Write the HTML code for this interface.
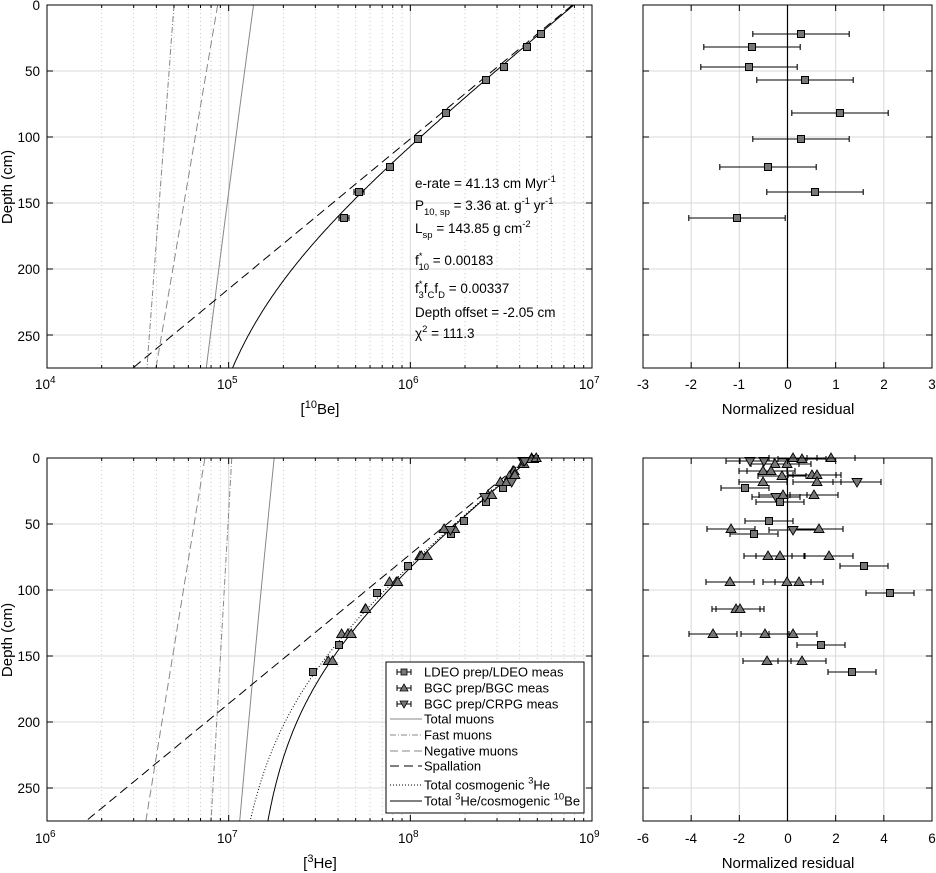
<!DOCTYPE html>
<html><head><meta charset="utf-8"><style>
html,body{margin:0;padding:0;background:#fff;}
svg{display:block;font-family:"Liberation Sans",Arial,sans-serif;}
</style></head><body>
<svg id="s" width="936" height="873" viewBox="0 0 936 873" xmlns="http://www.w3.org/2000/svg">
<rect width="936" height="873" fill="#fff"/>
<g id="grid"></g>
<g id="curves" fill="none"></g>
<g id="pts"></g>
<g id="frames" fill="none" stroke="#000" stroke-width="1"></g>
<g font-size="13.5" fill="#000">
 <text x="40" y="10" text-anchor="end">0</text>
 <text x="40" y="76" text-anchor="end">50</text>
 <text x="40" y="142" text-anchor="end">100</text>
 <text x="40" y="208" text-anchor="end">150</text>
 <text x="40" y="274" text-anchor="end">200</text>
 <text x="40" y="341" text-anchor="end">250</text>
 <text x="40" y="463" text-anchor="end">0</text>
 <text x="40" y="529" text-anchor="end">50</text>
 <text x="40" y="595" text-anchor="end">100</text>
 <text x="40" y="661" text-anchor="end">150</text>
 <text x="40" y="727" text-anchor="end">200</text>
 <text x="40" y="793" text-anchor="end">250</text>
 <text x="35" y="389">10<tspan font-size="10" dy="-6">4</tspan></text>
 <text x="217" y="389">10<tspan font-size="10" dy="-6">5</tspan></text>
 <text x="398" y="389">10<tspan font-size="10" dy="-6">6</tspan></text>
 <text x="579" y="389">10<tspan font-size="10" dy="-6">7</tspan></text>
 <text x="35" y="843">10<tspan font-size="10" dy="-6">6</tspan></text>
 <text x="217" y="843">10<tspan font-size="10" dy="-6">7</tspan></text>
 <text x="398" y="843">10<tspan font-size="10" dy="-6">8</tspan></text>
 <text x="579" y="843">10<tspan font-size="10" dy="-6">9</tspan></text>
 <text x="643" y="389" text-anchor="middle">-3</text>
 <text x="691" y="389" text-anchor="middle">-2</text>
 <text x="739" y="389" text-anchor="middle">-1</text>
 <text x="788" y="389" text-anchor="middle">0</text>
 <text x="836" y="389" text-anchor="middle">1</text>
 <text x="884" y="389" text-anchor="middle">2</text>
 <text x="932" y="389" text-anchor="middle">3</text>
 <text x="643" y="843" text-anchor="middle">-6</text>
 <text x="691" y="843" text-anchor="middle">-4</text>
 <text x="739" y="843" text-anchor="middle">-2</text>
 <text x="788" y="843" text-anchor="middle">0</text>
 <text x="836" y="843" text-anchor="middle">2</text>
 <text x="884" y="843" text-anchor="middle">4</text>
 <text x="932" y="843" text-anchor="middle">6</text>
</g>
<g font-size="15" fill="#000">
 <text transform="translate(12,187) rotate(-90)" text-anchor="middle">Depth (cm)</text>
 <text transform="translate(12,640) rotate(-90)" text-anchor="middle">Depth (cm)</text>
 <text x="320" y="414" text-anchor="middle">[<tspan font-size="11" dy="-6">10</tspan><tspan dy="6">Be]</tspan></text>
 <text x="320" y="868" text-anchor="middle">[<tspan font-size="11" dy="-6">3</tspan><tspan dy="6">He]</tspan></text>
 <text x="788" y="414" text-anchor="middle">Normalized residual</text>
 <text x="788" y="868" text-anchor="middle">Normalized residual</text>
</g>
<g font-size="13.5" fill="#000">
 <text x="415" y="188">e-rate = 41.13 cm Myr<tspan font-size="9.5" dy="-6">-1</tspan></text>
 <text x="415" y="210">P<tspan font-size="9.5" dy="5">10, sp</tspan><tspan dy="-5"> = 3.36 at. g</tspan><tspan font-size="9.5" dy="-6">-1</tspan><tspan dy="6"> yr</tspan><tspan font-size="9.5" dy="-6">-1</tspan></text>
 <text x="415" y="233">L<tspan font-size="9.5" dy="5">sp</tspan><tspan dy="-5"> = 143.85 g cm</tspan><tspan font-size="9.5" dy="-6">-2</tspan></text>
 <text x="415" y="265">f<tspan font-size="9.5" dy="-6">*</tspan><tspan font-size="9.5" dx="-4" dy="11">10</tspan><tspan dy="-5"> = 0.00183</tspan></text>
 <text x="415" y="293">f<tspan font-size="9.5" dy="-6">*</tspan><tspan font-size="9.5" dx="-4" dy="11">3</tspan><tspan dy="-5">f</tspan><tspan font-size="9.5" dy="5">C</tspan><tspan dy="-5">f</tspan><tspan font-size="9.5" dy="5">D</tspan><tspan dy="-5"> = 0.00337</tspan></text>
 <text x="415" y="317">Depth offset = -2.05 cm</text>
 <text x="415" y="338">χ<tspan font-size="9.5" dy="-6">2</tspan><tspan dy="6"> = 111.3</tspan></text>
</g>
<g id="legend"></g>
</svg>
<script>
const NS="http://www.w3.org/2000/svg";
function el(p,t,a){const e=document.createElementNS(NS,t);for(const k in a)e.setAttribute(k,a[k]);p.appendChild(e);return e;}
const G=document.getElementById('grid'),C=document.getElementById('curves'),P=document.getElementById('pts'),F=document.getElementById('frames');
const XL=47,XR=592,DEC=181.67,XRL=643,XRR=932;
const panels=[{top:5,bot:368},{top:458,bot:821}];
const sc=(363/275);
panels.forEach((p,i)=>{
  for(let dcd=0;dcd<3;dcd++){for(let m=2;m<=9;m++){const x=XL+DEC*(dcd+Math.log10(m));
    el(G,'line',{x1:x,x2:x,y1:p.top,y2:p.bot,stroke:'#bbb','stroke-width':0.8,'stroke-dasharray':'1,3'});
    el(F,'line',{x1:x,x2:x,y1:p.bot,y2:p.bot-3});el(F,'line',{x1:x,x2:x,y1:p.top,y2:p.top+3});}}
  for(let dcd=1;dcd<3;dcd++){const x=XL+DEC*dcd;el(G,'line',{x1:x,x2:x,y1:p.top,y2:p.bot,stroke:'#d8d8d8'});
    el(F,'line',{x1:x,x2:x,y1:p.bot,y2:p.bot-6});el(F,'line',{x1:x,x2:x,y1:p.top,y2:p.top+6});}
  for(let d=50;d<=250;d+=50){const y=p.top+d*sc;
    el(G,'line',{x1:XL,x2:XR,y1:y,y2:y,stroke:'#d8d8d8'});el(G,'line',{x1:XRL,x2:XRR,y1:y,y2:y,stroke:'#d8d8d8'});
    el(F,'line',{x1:XL,x2:XL+6,y1:y,y2:y});el(F,'line',{x1:XR,x2:XR-6,y1:y,y2:y});
    el(F,'line',{x1:XRL,x2:XRL+6,y1:y,y2:y});el(F,'line',{x1:XRR,x2:XRR-6,y1:y,y2:y});}
  for(let k=1;k<6;k++){const x=XRL+k*(XRR-XRL)/6;el(G,'line',{x1:x,x2:x,y1:p.top,y2:p.bot,stroke:'#d8d8d8'});
    el(F,'line',{x1:x,x2:x,y1:p.bot,y2:p.bot-6});el(F,'line',{x1:x,x2:x,y1:p.top,y2:p.top+6});}
  el(F,'rect',{x:XL,y:p.top,width:XR-XL,height:p.bot-p.top});
  el(F,'rect',{x:XRL,y:p.top,width:XRR-XRL,height:p.bot-p.top});
  el(C,'line',{x1:787.5,x2:787.5,y1:p.top,y2:p.bot,stroke:'#000','stroke-width':1.2});
});
function clipRect(id,y0,y1){const d=el(document.getElementById('s'),'clipPath',{id:id});el(d,'rect',{x:XL,y:y0,width:XR-XL,height:y1-y0});}
clipRect('c0',5,368);clipRect('c1',458,821);
function comp(a,b){return d=>Math.pow(10,a+(b-a)*d/275);}
function draw(pi,lo,fn,style){const p=panels[pi];let s='';
  for(let d=0;d<=275;d+=1){const v=fn(d);const x=XL+DEC*(Math.log10(v)-lo);const y=p.top+d*sc;s+=(d?'L':'M')+x.toFixed(1)+','+y.toFixed(1);}
  const a=Object.assign({d:s,'clip-path':'url(#c'+pi+')'},style);el(C,'path',a);}
const tSp=comp(Math.log10(7.8e6),Math.log10(2.97e4)),tFm=comp(Math.log10(5e4),Math.log10(3.55e4)),tNm=comp(Math.log10(8.7e4),Math.log10(3.98e4));
const tMu=d=>tFm(d)+tNm(d),tTot=d=>tSp(d)+tMu(d);
draw(0,4,tFm,{stroke:'#888','stroke-dasharray':'6,2,1,2'});
draw(0,4,tNm,{stroke:'#888','stroke-dasharray':'8,4'});
draw(0,4,tMu,{stroke:'#888'});
draw(0,4,tSp,{stroke:'#000','stroke-dasharray':'9,5'});
draw(0,4,tTot,{stroke:'#000'});
const bSp=comp(Math.log10(4.4e8),Math.log10(1.64e6)),bFm=comp(Math.log10(1.04e7),Math.log10(8e6)),bNm=comp(Math.log10(7.4e6),Math.log10(3.5e6));
const bMu=d=>bFm(d)+bNm(d),bCos=d=>bSp(d)+bMu(d),bTot=d=>bCos(d)+3.3e6;
draw(1,6,bFm,{stroke:'#888','stroke-dasharray':'6,2,1,2'});
draw(1,6,bNm,{stroke:'#888','stroke-dasharray':'8,4'});
draw(1,6,bMu,{stroke:'#888'});
draw(1,6,bSp,{stroke:'#000','stroke-dasharray':'9,5'});
draw(1,6,bCos,{stroke:'#000','stroke-dasharray':'1,2'});
draw(1,6,bTot,{stroke:'#000'});
function sq(x,y){el(P,'rect',{x:x-3.5,y:y-3.5,width:7,height:7,fill:'#777',stroke:'#000','stroke-width':1});}
function tu(x,y){el(P,'path',{d:`M${x},${y-5}L${x+5},${y+3.5}L${x-5},${y+3.5}Z`,fill:'#777',stroke:'#000','stroke-width':0.9});}
function td(x,y){el(P,'path',{d:`M${x},${y+5}L${x+5},${y-3.5}L${x-5},${y-3.5}Z`,fill:'#777',stroke:'#000','stroke-width':0.9});}
function eb(x,y,h){el(P,'path',{d:`M${x-h},${y}H${x+h}M${x-h},${y-3}V${y+3}M${x+h},${y-3}V${y+3}`,stroke:'#000','stroke-width':1.1,fill:'none'});}
[[541,34],[527,47],[504,67],[486,80],[446,113],[418,139],[390,167],[359,192],[344,218]].forEach(([x,y],i)=>{if(i>=7)eb(x,y,5);sq(x,y);});
[[801,34],[752,47],[749,67],[805,80],[840,113],[801,139],[768,167],[815,192],[737,218]].forEach(([x,y])=>{eb(x,y,48.2);sq(x,y);});
const BU=[[793,458],[802,459],[831,458],[775,464],[787,464],[763,471],[771,471],[782,476],[812,475],[817,475],[763,482],[817,482],[783,495],[814,495],[731,529],[819,529],[768,556],[780,556],[829,556],[730,582],[787,582],[799,582],[736,609],[740,609],[713,634],[765,634],[793,634],[767,661],[802,661]];
const BD=[[750,461],[764,461],[857,482],[776,497],[793,530]];
const BS=[[745,488],[780,502],[769,521],[754,534],[864,566],[890,593],[821,645],[852,672]];
BU.forEach(([x,y])=>{eb(x,y,24);});BD.forEach(([x,y])=>{eb(x,y,24);});BS.forEach(([x,y])=>{eb(x,y,24);});
BU.forEach(([x,y])=>tu(x,y));BD.forEach(([x,y])=>td(x,y));BS.forEach(([x,y])=>sq(x,y));
[[535,459],[503,488],[486,502],[464,521],[451,534],[408,566],[377,593],[339,645],[313,672]].forEach(([x,y])=>sq(x,y));
function curveX(y){const d=(y-458)/sc;return XL+DEC*(Math.log10(bTot(d))-6);}
BU.forEach(([rx,y])=>tu(curveX(y)+(rx-787)*0.12,y));
BD.forEach(([rx,y])=>td(curveX(y)+(rx-787)*0.12,y));
const L=document.getElementById('legend');
el(L,'rect',{x:386,y:662,width:198,height:151,fill:'#fff',stroke:'#000'});
const items=[['LDEO prep/LDEO meas','s',672],['BGC prep/BGC meas','u',688],['BGC prep/CRPG meas','d',704],['Total muons',{stroke:'#888'},719],['Fast muons',{stroke:'#888','stroke-dasharray':'6,2,1,2'},735],['Negative muons',{stroke:'#888','stroke-dasharray':'8,4'},751],['Spallation',{stroke:'#000','stroke-dasharray':'9,5'},766],[null,{stroke:'#000','stroke-dasharray':'1,2'},785],[null,{stroke:'#000'},801]];
items.forEach(([t,st,y])=>{
  if(typeof st==='string'){el(L,'path',{d:`M397,${y}H411M397,${y-3}V${y+3}M411,${y-3}V${y+3}`,stroke:'#000',fill:'none'});
    if(st==='s')el(L,'rect',{x:401,y:y-3,width:6,height:6,fill:'#777',stroke:'#000','stroke-width':0.8});
    if(st==='u')el(L,'path',{d:`M404,${y-4}L408,${y+3}L400,${y+3}Z`,fill:'#777',stroke:'#000','stroke-width':0.8});
    if(st==='d')el(L,'path',{d:`M404,${y+4}L408,${y-3}L400,${y-3}Z`,fill:'#777',stroke:'#000','stroke-width':0.8});}
  else{el(L,'line',Object.assign({x1:390,x2:422,y1:y,y2:y,fill:'none'},st));}
  if(t){const tx=el(L,'text',{x:424,y:y+4.5,'font-size':13});tx.textContent=t;}
});
</script>
<svg style="position:absolute;left:0;top:0" width="936" height="873" font-family="Liberation Sans, Arial, sans-serif">
 <text x="424" y="789.5" font-size="13">Total cosmogenic <tspan font-size="9.5" dy="-6">3</tspan><tspan dy="6">He</tspan></text>
 <text x="424" y="805.5" font-size="13">Total <tspan font-size="9.5" dy="-6">3</tspan><tspan dy="6">He/cosmogenic </tspan><tspan font-size="9.5" dy="-6">10</tspan><tspan dy="6">Be</tspan></text>
</svg>
</body></html>
